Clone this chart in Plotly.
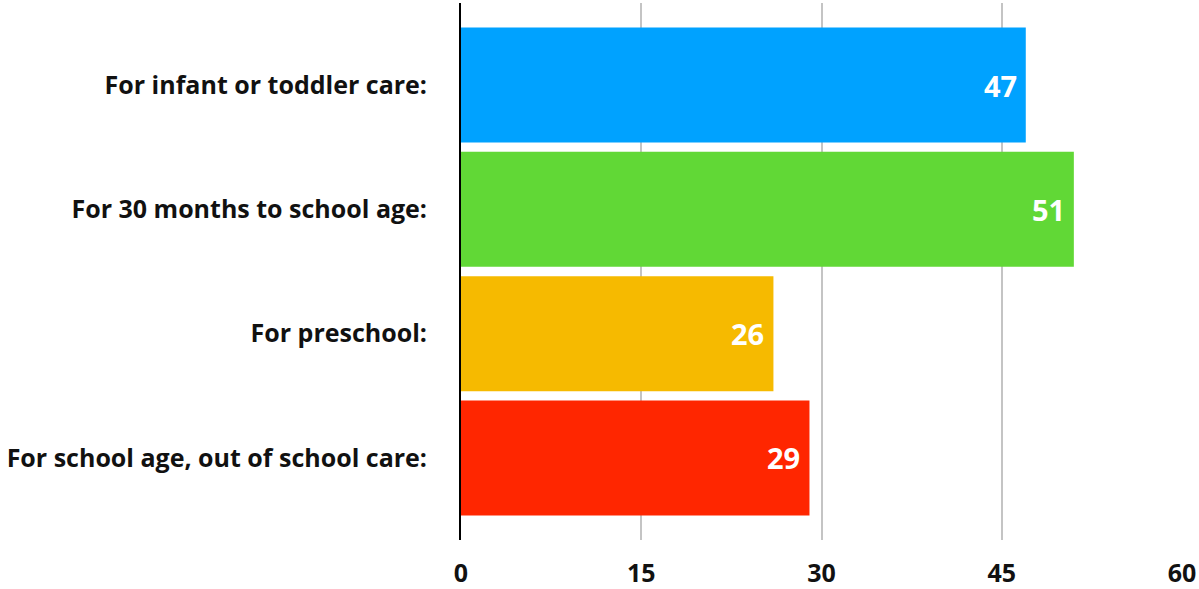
import plotly.graph_objects as go

categories = ["For infant or toddler care:", "For 30 months to school age:",
              "For preschool:", "For school age, out of school care:"]
values = [47, 51, 26, 29]
colors = ["#00A2FF", "#61D836", "#F6BA00", "#FF2600"]
tick_vals = [0, 15, 30, 45, 60]

FONT = "Open Sans"

fig = go.Figure(go.Bar(
    x=values, y=categories, orientation="h",
    marker=dict(color=colors, line=dict(width=0)),
    hoverinfo="x+y",
))

for c, v in zip(categories, values):
    fig.add_annotation(
        x=v, y=c, text=str(v), showarrow=False, xanchor="right", xshift=-7,
        font=dict(family=FONT, size=29, color="white", weight="bold"),
    )

fig.update_layout(
    width=1199, height=589,
    margin=dict(l=461, r=17, t=3, b=49, autoexpand=False),
    paper_bgcolor="white", plot_bgcolor="white",
    bargap=0.075,
    showlegend=False,
    font=dict(family=FONT, color="#111111"),
)
fig.update_xaxes(
    range=[0, 60], tickvals=tick_vals, showgrid=True, gridcolor="#c4c4c4", gridwidth=2,
    zeroline=False, showline=False, automargin=False,
    tickfont=dict(family=FONT, size=25, color="#111111", weight="bold"),
    ticks="", ticklabelstandoff=16,
)
fig.update_yaxes(
    autorange=False, range=[3.66, -0.66], showgrid=False, automargin=False,
    showline=True, linecolor="black", linewidth=2,
    tickfont=dict(family=FONT, size=25, color="#111111", weight="bold"),
    ticks="", ticklabelstandoff=27,
)
fig.write_html("out.html", config={"displayModeBar": False},
               post_script="document.body.style.margin='0';document.body.style.overflow='hidden';")
